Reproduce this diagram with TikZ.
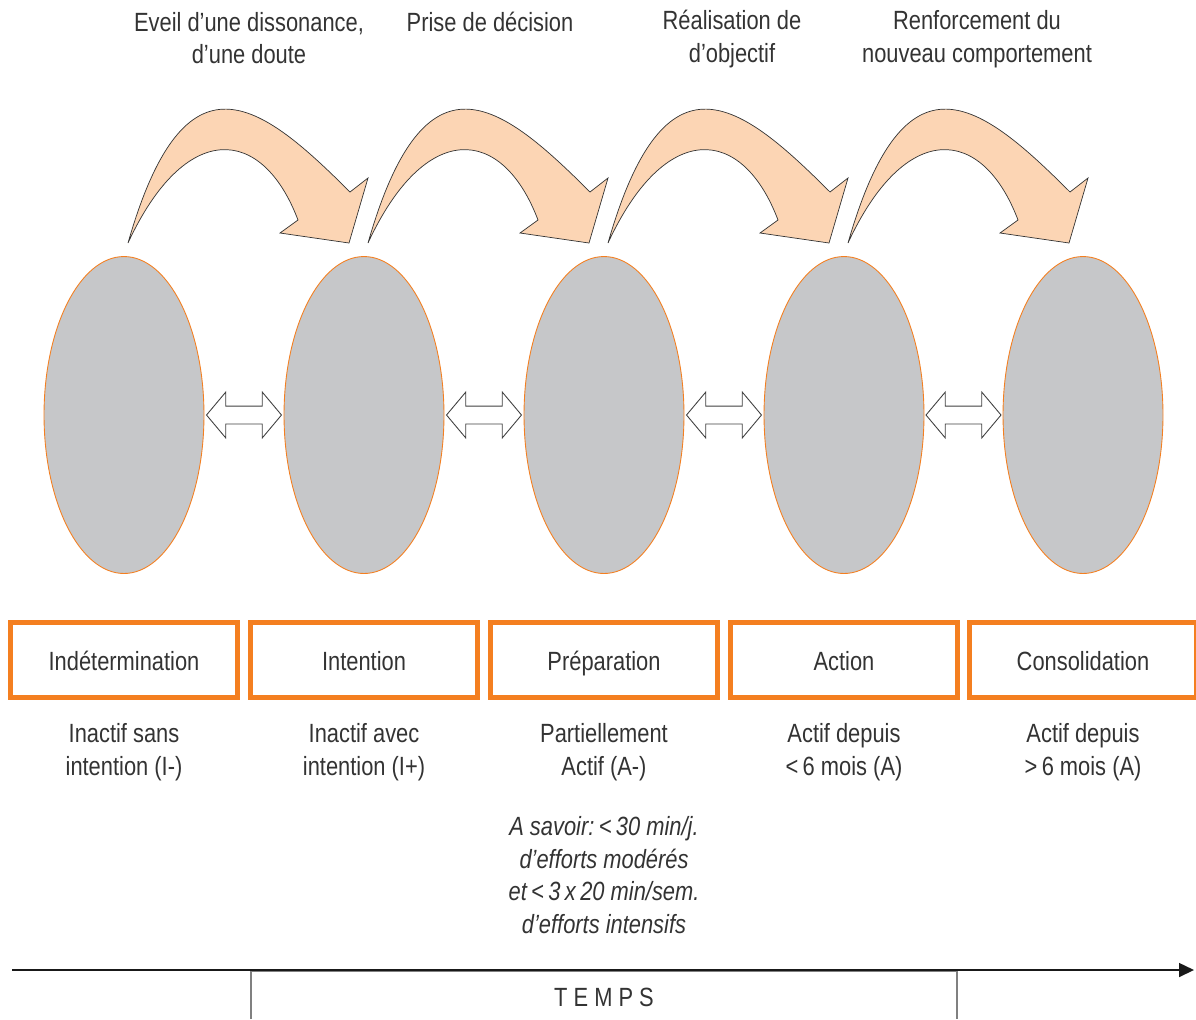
\documentclass[tikz,border=0pt]{standalone}
\usepackage{fontspec}
\setmainfont{Liberation Sans}[FakeStretch=0.83]
\usetikzlibrary{arrows.meta,positioning,calc,shapes.geometric,shapes.arrows}
\definecolor{stageorange}{HTML}{F47F20}
\definecolor{stagegray}{HTML}{C6C7C9}
\definecolor{peach}{HTML}{FCD5B4}
\definecolor{txt}{HTML}{333333}

\begin{document}
\begin{tikzpicture}[
  x=0.02cm, y=-0.02cm, >=Latex,
  every node/.style={font=\fontsize{15}{18.5}\selectfont, text=txt, align=center},
  stage/.style={ellipse, draw=stageorange, line width=0.5pt, fill=stagegray,
    minimum width=3.2cm, minimum height=6.34cm, inner sep=0pt},
  stagebox/.style={draw=stageorange, line width=2.8pt, text height=13pt, text depth=1pt,
    minimum width=4.53cm, minimum height=1.49cm, inner sep=0pt},
  swap/.style={double arrow, draw=black!75, fill=white, line width=0.5pt,
    minimum height=1.5cm, inner xsep=0pt, inner ysep=0.17cm,
    double arrow head extend=0.28cm, double arrow tip angle=100},
  curvearrow/.style={fill=peach, draw=black!80, line width=0.4pt, line join=miter}
]
  \useasboundingbox (0,0) rectangle (1196,1019);
  % curved arrows between stages
  \foreach \i in {0,...,3}
    \draw[curvearrow, shift={(240*\i,0)}] (128,243) .. controls (185,44) and (260,102) .. (350,192)
      -- (368,178) -- (349,243) -- (280,233) -- (298,220)
      .. controls (262,125) and (185,120) .. (128,243) -- cycle;
  % what moves one stage to the next
  \node (t1) at (249,38) {Eveil d’une dissonance,\\d’une doute};
  \node (t2) at (490,22) {Prise de décision};
  \node (t3) at (732,39) {Réalisation de\\d’objectif};
  \node (t4) at (977,39) {Renforcement du\\nouveau comportement};
  % stages
  \foreach \x/\lab/\sub [count=\i] in {124/Indétermination/Inactif sans\\intention (I-),
      364/Intention/Inactif avec\\intention (I+),
      604/Préparation/Partiellement\\Actif (A-),
      844/Action/Actif depuis\\<\,6 mois (A),
      1083/Consolidation/Actif depuis\\>\,6 mois (A)} {
    \node[stage] (e\i) at (\x,415) {};
    \node[stagebox] (b\i) at (\x,660) {\lab};
    \node (d\i) at (\x,752) {\sub};
  }
  % back and forth
  \foreach \i [evaluate=\i as \j using int(\i+1)] in {1,...,4}
    \node[swap] (s\i) at ($(e\i.east)!0.5!(e\j.west)$) {};
  \node (note) at (604,875) {\itshape A savoir:\,<\,30 min/j.\\
    \itshape d’efforts modérés\\ \itshape et\,<\,3\,x\,20 min/sem.\\
    \itshape d’efforts intensifs};
  % time axis
  \coordinate (tl) at (12,970);
  \coordinate (tr) at (1194,970);
  \draw[black!50, line width=0.8pt] (251,1019) -- (251,971) -- (957,971) -- (957,1019);
  \draw[-{Triangle[length=0.3cm,width=0.28cm]}, line width=0.9pt, black!90] (tl) -- (tr);
  \node (temps) at (604,997) {T E M P S};
\end{tikzpicture}
\end{document}
